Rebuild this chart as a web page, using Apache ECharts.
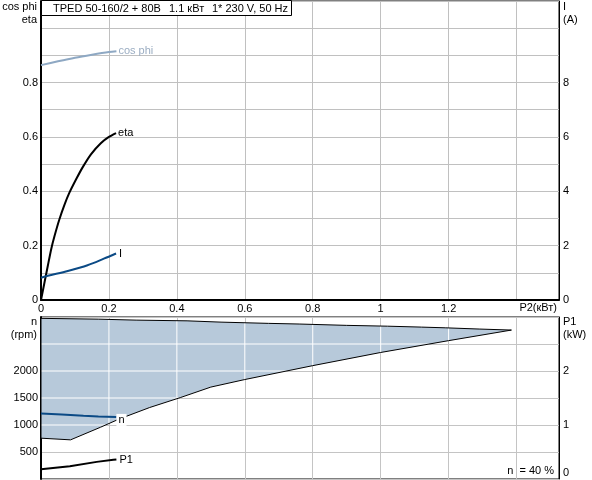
<!DOCTYPE html>
<html>
<head>
<meta charset="utf-8">
<script src="https://cdn.jsdelivr.net/npm/echarts@6/dist/echarts.min.js"></script>
<style>
html, body { margin: 0; padding: 0; background: #fff; }
#chart { width: 592px; height: 480px; }
</style>
</head>
<body>
<div id="chart"></div>
<script>
// curves, x = P2 (kW)
var cosPhi = [[0, 0.864], [0.05, 0.878], [0.1, 0.891], [0.15, 0.902], [0.2, 0.912], [0.222, 0.915]];
var eta = [[0, 0], [0.0107, 0.067], [0.0204, 0.128], [0.03, 0.187], [0.04, 0.236], [0.054, 0.296],
           [0.069, 0.35], [0.083, 0.393], [0.103, 0.443], [0.122, 0.487], [0.147, 0.536],
           [0.176, 0.577], [0.2, 0.6], [0.221, 0.614]];
var current = [[0, 0.82], [0.02, 0.89], [0.079, 1.07], [0.137, 1.28], [0.185, 1.52], [0.221, 1.71]];
var speed = [[0, 1214], [0.061, 1196], [0.125, 1170], [0.169, 1159], [0.222, 1150]];
var power1 = [[0, 0.18], [0.085, 0.236], [0.164, 0.317], [0.213, 0.355], [0.222, 0.36]];
// operating range (n vs P2), outline going clockwise
var rangeArea = [[0, 2975], [0.17, 2960], [0.28, 2942], [0.43, 2929], [0.53, 2905], [0.67, 2882],
                 [0.76, 2870], [0.9, 2845], [1.02, 2830], [1.12, 2813], [1.19, 2800], [1.29, 2777],
                 [1.385, 2758], [1.2, 2562], [1.0, 2343], [0.8, 2099], [0.6, 1842], [0.5, 1702],
                 [0.41, 1507], [0.32, 1324], [0.23, 1110], [0.175, 958], [0.087, 725], [0, 756]];
var xGrid = [0.2, 0.4, 0.6, 0.8, 1.0, 1.2, 1.4];
var rpmGrid = [500, 1000, 1500, 2000, 2500];

var FONT = '"Liberation Sans", Arial, sans-serif';
var chart = echarts.init(document.getElementById('chart'));

// where a grid line (dim 0 = vertical, 1 = horizontal) crosses the outline
function crossings(poly, v, dim) {
    var o = 1 - dim, hits = [];
    for (var i = 0; i < poly.length; i++) {
        var a = poly[i], b = poly[(i + 1) % poly.length];
        if ((a[dim] <= v && b[dim] > v) || (b[dim] <= v && a[dim] > v)) {
            hits.push(a[o] + (v - a[dim]) / (b[dim] - a[dim]) * (b[o] - a[o]));
        }
    }
    return hits.sort(function(m, n) { return m - n; });
}

function renderRange(params, api) {
    if (params.dataIndex !== 0) return;
    var pts = rangeArea.map(function(p) { return api.coord(p); });
    var children = [{
        type: 'polygon',
        shape: { points: pts },
        style: { fill: '#b7c9da', stroke: null }
    }];
    function addLines(vals, dim) {
        vals.forEach(function(v) {
            var h = crossings(rangeArea, v, dim);
            for (var k = 0; k + 1 < h.length; k += 2) {
                var p1 = dim === 0 ? [v, h[k]] : [h[k], v];
                var p2 = dim === 0 ? [v, h[k + 1]] : [h[k + 1], v];
                var c1 = api.coord(p1), c2 = api.coord(p2);
                children.push({
                    type: 'line',
                    shape: { x1: c1[0], y1: c1[1], x2: c2[0], y2: c2[1] },
                    style: { stroke: '#fff', lineWidth: 1 }
                });
            }
        });
    }
    addLines(xGrid, 0);
    addLines(rpmGrid, 1);
    children.push({
        type: 'polygon',
        shape: { points: pts },
        style: { fill: null, stroke: '#000', lineWidth: 1 }
    });
    return { type: 'group', children: children };
}

function txt(x, y, s, align, color) {
    return {
        type: 'text', x: x, y: y, z: 100,
        style: { text: s, font: '11px ' + FONT, fill: color || '#000', align: align || 'left', verticalAlign: 'middle' }
    };
}

function lbl(margin, fmt) {
    return { color: '#000', fontFamily: FONT, fontSize: 11, margin: margin, formatter: fmt };
}

var option = {
    animation: false,
    backgroundColor: '#fff',
    grid: [
        { left: 41, right: 33, top: 1, height: 299, show: true, borderColor: '#000', borderWidth: 1 },
        { left: 41, right: 33, top: 317, height: 162, show: true, borderColor: '#000', borderWidth: 1 }
    ],
    xAxis: [{
        gridIndex: 0, type: 'value', min: 0, max: 1.525, interval: 0.2,
        axisLine: { lineStyle: { color: '#000', width: 2 } }, axisTick: { show: false },
        splitLine: { lineStyle: { color: '#c0c0c0' } },
        axisLabel: lbl(3, function(v) {
            var k = Math.round(v * 10);
            if (k % 2 !== 0 || k > 12 || Math.abs(v * 10 - k) > 1e-6) return '';
            return String(k / 10);
        })
    }, {
        gridIndex: 1, type: 'value', min: 0, max: 1.525, interval: 0.2,
        axisLine: { show: false }, axisTick: { show: false }, axisLabel: { show: false },
        splitLine: { lineStyle: { color: '#c4c4c4' } }
    }],
    yAxis: [{
        gridIndex: 0, type: 'value', min: 0, max: 1.1, interval: 0.1,
        axisLine: { show: true, lineStyle: { color: '#000', width: 2 } }, axisTick: { show: false },
        splitLine: { lineStyle: { color: '#c0c0c0' } },
        axisLabel: lbl(3, function(v) {
            var k = Math.round(v * 10);
            return (k % 2 === 0 && k <= 8) ? String(k / 10) : '';
        })
    }, {
        gridIndex: 0, type: 'value', position: 'right', min: 0, max: 11, interval: 1,
        axisLine: { show: true, lineStyle: { color: '#000' } }, axisTick: { show: false },
        splitLine: { show: false },
        axisLabel: lbl(4, function(v) {
            return (v % 2 === 0 && v <= 8) ? String(v) : '';
        })
    }, {
        gridIndex: 1, type: 'value', min: 0, max: 3000, interval: 500,
        axisLine: { show: true, lineStyle: { color: '#000', width: 2 } }, axisTick: { show: false },
        splitLine: { lineStyle: { color: '#c4c4c4' } },
        axisLabel: lbl(3, function(v) {
            return (v >= 500 && v <= 2000) ? String(v) : '';
        })
    }, {
        gridIndex: 1, type: 'value', position: 'right', min: 0, max: 3, interval: 0.5,
        axisLine: { show: true, lineStyle: { color: '#000' } }, axisTick: { show: false },
        splitLine: { show: false },
        axisLabel: lbl(4, function(v) {
            return (v === 1 || v === 2) ? String(v) : '';
        })
    }],
    series: [{
        name: 'cos phi', type: 'line', xAxisIndex: 0, yAxisIndex: 0, data: cosPhi,
        showSymbol: false, smooth: 0.3, lineStyle: { color: '#8ea8c3', width: 2 },
        endLabel: { show: true, formatter: 'cos phi', color: '#9badc2', fontFamily: FONT, fontSize: 11, distance: 2 }
    }, {
        name: 'eta', type: 'line', xAxisIndex: 0, yAxisIndex: 0, data: eta,
        showSymbol: false, smooth: 0.2, lineStyle: { color: '#000', width: 2 },
        endLabel: { show: true, formatter: 'eta', color: '#000', fontFamily: FONT, fontSize: 11, distance: 2 }
    }, {
        name: 'I', type: 'line', xAxisIndex: 0, yAxisIndex: 1, data: current,
        showSymbol: false, smooth: 0.3, lineStyle: { color: '#0b4a85', width: 2 },
        endLabel: { show: true, formatter: 'I', color: '#000', fontFamily: FONT, fontSize: 11, distance: 3 }
    }, {
        name: 'range', type: 'custom', xAxisIndex: 1, yAxisIndex: 2, data: rangeArea,
        renderItem: renderRange, silent: true, z: 1
    }, {
        name: 'n', type: 'line', xAxisIndex: 1, yAxisIndex: 2, data: speed, z: 3,
        showSymbol: false, lineStyle: { color: '#0b4a85', width: 2 },
        endLabel: { show: true, formatter: 'n', color: '#000', fontFamily: FONT, fontSize: 11,
                    backgroundColor: '#fff', padding: [1, 2, 0, 2], distance: 0, offset: [0, 3] }
    }, {
        name: 'P1', type: 'line', xAxisIndex: 1, yAxisIndex: 3, data: power1, z: 3,
        showSymbol: false, lineStyle: { color: '#000', width: 2 },
        endLabel: { show: true, formatter: 'P1', color: '#000', fontFamily: FONT, fontSize: 11, distance: 3 }
    }],
    graphic: [
        { type: 'rect', z: 99, shape: { x: 41.5, y: 0.5, width: 250, height: 15 },
          style: { fill: '#fff', stroke: '#000', lineWidth: 1 } },
        txt(53, 8.5, 'TPED 50-160/2 + 80B'),
        txt(169, 8.5, '1.1 кВт'),
        txt(212, 8.5, '1* 230 V, 50 Hz'),
        txt(37, 7, 'cos phi', 'right'),
        txt(37, 20, 'eta', 'right'),
        txt(563, 7, 'I'),
        txt(563, 20, '(A)'),
        txt(557, 308, 'P2(кВт)', 'right'),
        txt(37, 322, 'n', 'right'),
        txt(37, 335, '(rpm)', 'right'),
        txt(563, 322, 'P1'),
        txt(563, 335, '(kW)'),
        txt(563, 473, '0'),
        txt(554, 471, 'n  = 40 %', 'right')
    ]
};

chart.setOption(option);
</script>
</body>
</html>
